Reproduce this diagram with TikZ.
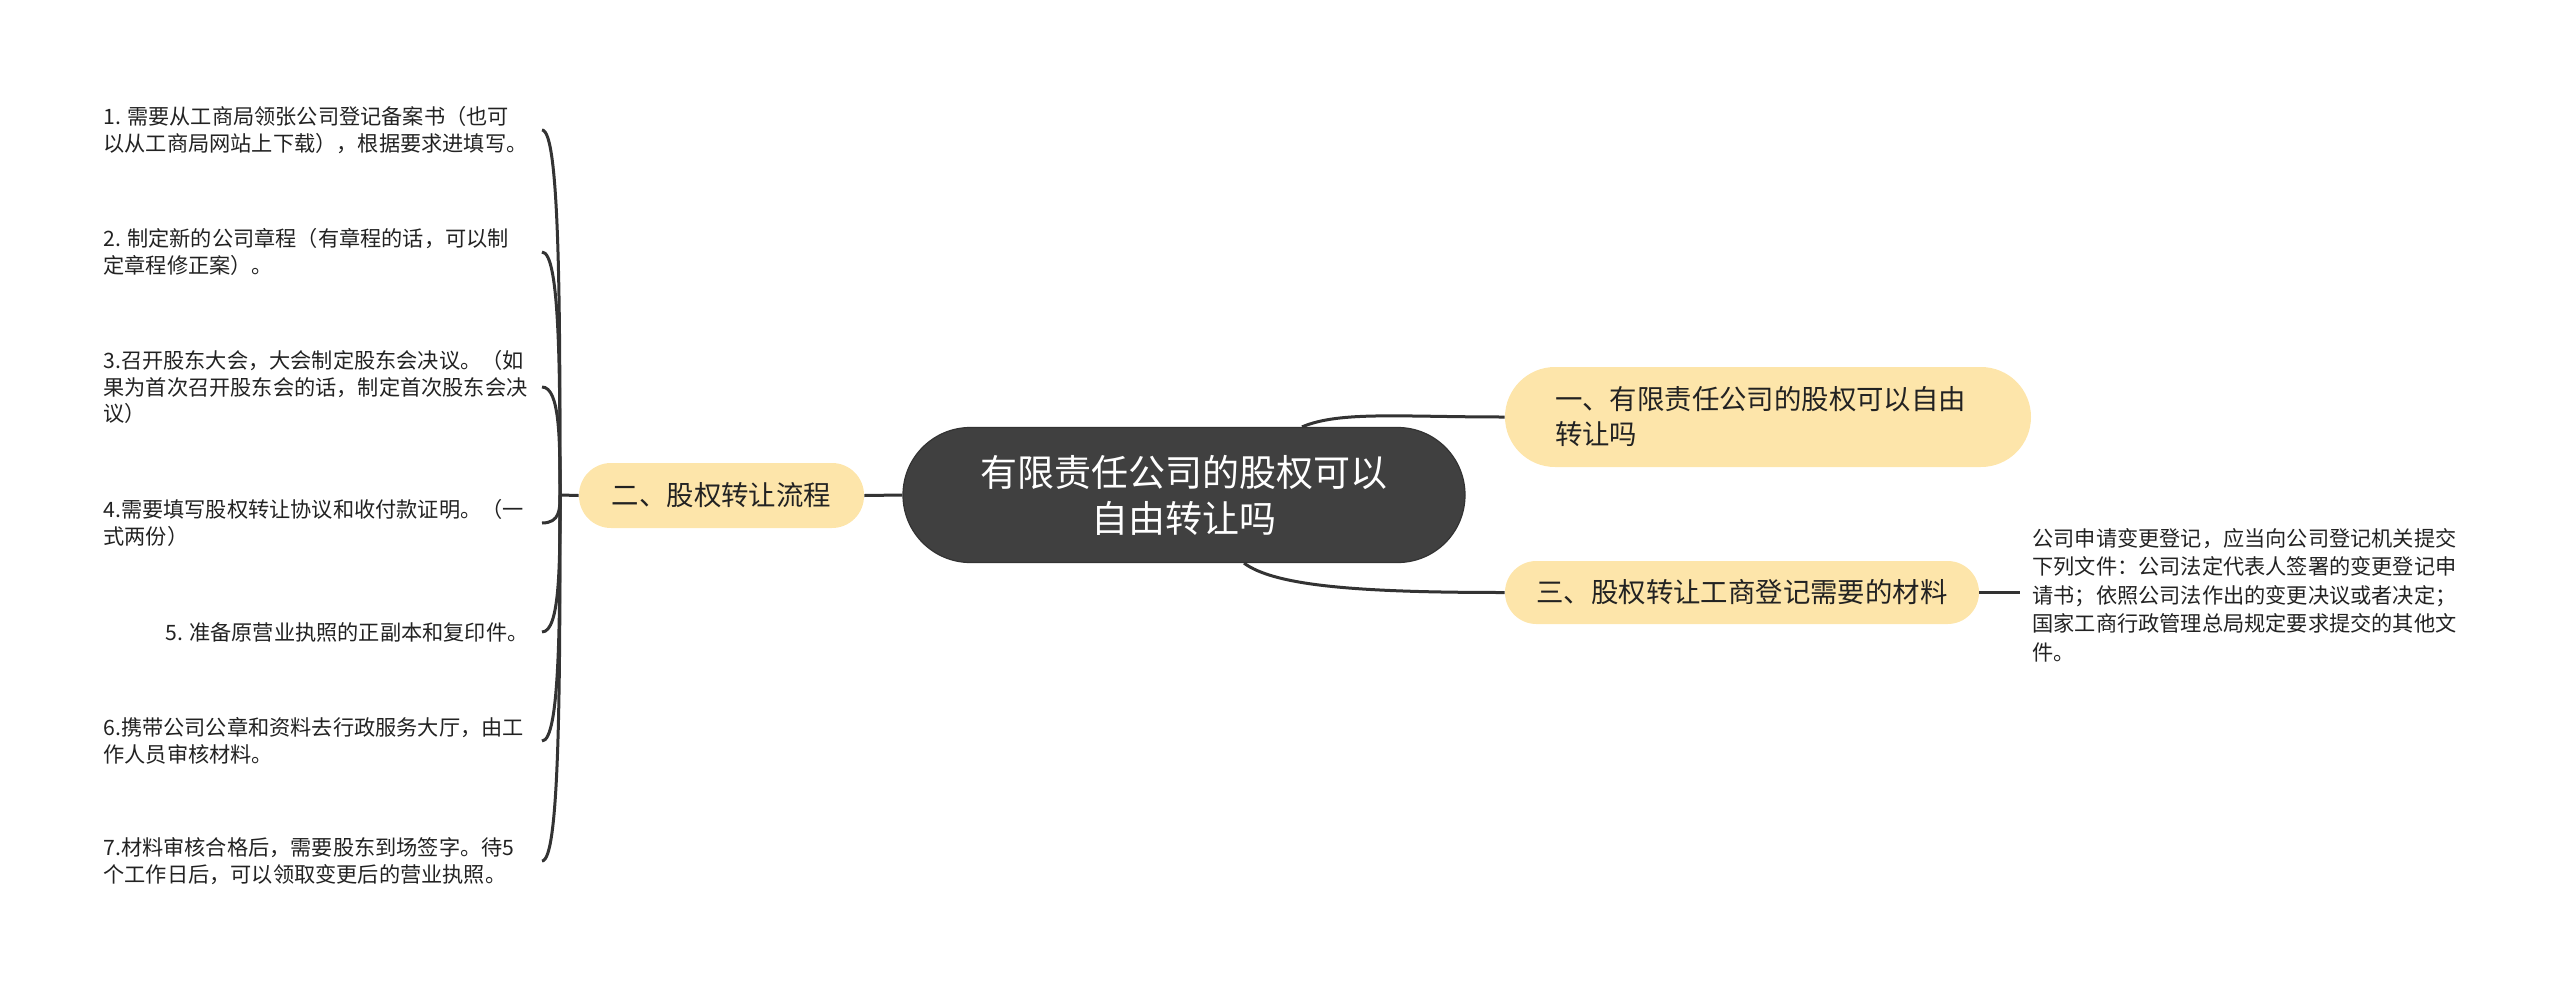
\documentclass[tikz,border=0pt]{standalone}
\usepackage{fontspec}
\setmainfont{Noto Sans CJK SC}
\usetikzlibrary{calc}
\definecolor{yel}{HTML}{FDE5AA}
\definecolor{darkfill}{HTML}{404040}
\definecolor{ln}{HTML}{333333}
\definecolor{txt}{HTML}{222222}
\begin{document}
\begin{tikzpicture}[x=0.5pt,y=-0.5pt,
  conn/.style={draw=ln,line width=1.5pt},
  rootbox/.style={rectangle,rounded corners=33.7pt,fill=darkfill,draw=ln,line width=0.6pt,
    minimum width=281pt,minimum height=67.5pt,text=white,align=center,
    font=\fontsize{18.5pt}{23pt}\selectfont,inner sep=0pt},
  ybox/.style={rectangle,fill=yel,text=txt,font=\fontsize{13.7pt}{17.5pt}\selectfont,inner sep=0pt},
  leaf/.style={inner sep=0pt,align=left,text=txt,font=\fontsize{10.6pt}{13.35pt}\selectfont},
]
\useasboundingbox (0,0) rectangle (2560,991);

% main nodes
\node[rootbox] (root) at (1184,495) {有限责任公司的股权可以\\自由转让吗};
\node[ybox,rounded corners=16pt,minimum width=142.5pt,minimum height=32.5pt] (L) at (721.5,495.5) {二、股权转让流程};
\node[ybox,rounded corners=25pt,minimum width=263pt,minimum height=50pt,text width=213pt,inner xsep=25pt,align=left] (R1) at (1768,417) {一、有限责任公司的股权可以自由\\转让吗};
\node[ybox,rounded corners=15.7pt,minimum width=237pt,minimum height=31.5pt] (R3) at (1742,592.5) {三、股权转让工商登记需要的材料};

% right leaf
\node[leaf,anchor=west,inner xsep=6pt,font=\fontsize{10.6pt}{14.25pt}\selectfont] (RT) at (2020,595)
  {公司申请变更登记，应当向公司登记机关提交\\下列文件：公司法定代表人签署的变更登记申\\请书；依照公司法作出的变更决议或者决定；\\国家工商行政管理总局规定要求提交的其他文\\件。};

% left leaves
\coordinate (T) at (560,495);
\coordinate (xe) at (542,495);
\node[leaf,anchor=west] (i1) at (103,130) {1. 需要从工商局领张公司登记备案书（也可\\以从工商局网站上下载），根据要求进填写。};
\node[leaf,anchor=west] (i2) at (103,252) {2. 制定新的公司章程（有章程的话，可以制\\定章程修正案）。};
\node[leaf,anchor=west] (i3) at (103,387) {3.召开股东大会，大会制定股东会决议。（如\\果为首次召开股东会的话，制定首次股东会决\\议）};
\node[leaf,anchor=west] (i4) at (103,523) {4.需要填写股权转让协议和收付款证明。（一\\式两份）};
\node[leaf,anchor=east] (i5) at (529,632) {5. 准备原营业执照的正副本和复印件。};
\node[leaf,anchor=west] (i6) at (103,741) {6.携带公司公章和资料去行政服务大厅，由工\\作人员审核材料。};
\node[leaf,anchor=west] (i7) at (103,861) {7.材料审核合格后，需要股东到场签字。待5\\个工作日后，可以领取变更后的营业执照。};

% connectors
\draw[conn] (root.west) -- (L.east);
\draw[conn] (L.west) -- (T);
\foreach \n in {i1,i2,i3,i4,i5,i6,i7}{
  \draw[conn] (T) .. controls ($(T)!0.5!(T|-\n.east)$) and (T|-\n.east) .. (\n.east-|xe);
}
\draw[conn] ($(root.north)+(118,0)$) .. controls ($(root.north)+(156,-16)$) and ($(R1.west)+(-105,0)$) .. (R1.west);
\draw[conn] ($(root.south)+(60,0)$) .. controls ($(root.south)+(91,23)$) and ($(R3.west)+(-145,0)$) .. (R3.west);
\draw[conn] (R3.east) -- (R3.east -| RT.west);
\end{tikzpicture}
\end{document}
